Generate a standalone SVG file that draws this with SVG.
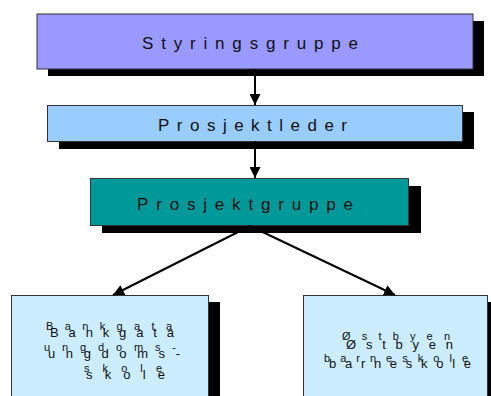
<svg xmlns="http://www.w3.org/2000/svg" width="491" height="396" viewBox="0 0 491 396">
<defs>
<marker id="ah" viewBox="0 0 10 10" refX="10" refY="5" markerWidth="5.5" markerHeight="5.5" orient="auto" markerUnits="strokeWidth">
<path d="M0,0 L10,5 L0,10 z" fill="#000"/>
</marker>
<style>
.shadow{fill:#000}
.box{stroke:#333;stroke-width:1}
.t{font-family:"Liberation Sans",Arial,sans-serif;font-size:17px;fill:#111}
.b{font-family:"Liberation Sans",Arial,sans-serif;font-size:13px;fill:#111}
.s{font-family:"Liberation Sans",Arial,sans-serif;font-size:11px;fill:#111}
.c{stroke:#000;stroke-width:2;fill:none;marker-end:url(#ah)}
</style>
</defs>
<rect width="491" height="396" fill="#fff"/>
<g id="styringsgruppe">
<rect class="shadow" x="48" y="21" width="436" height="55"/>
<rect class="box" x="37" y="14" width="436" height="55" fill="#9999ff"/>
<text class="t" x="142" y="49" textLength="216" lengthAdjust="spacing">Styringsgruppe</text>
</g>
<g id="prosjektleder">
<rect class="shadow" x="59" y="112" width="415" height="37"/>
<rect class="box" x="47.5" y="105.5" width="415" height="36" fill="#99ccff"/>
<text class="t" x="158" y="131" textLength="189" lengthAdjust="spacing">Prosjektleder</text>
</g>
<g id="prosjektgruppe">
<rect class="shadow" x="102" y="186" width="319" height="47"/>
<rect class="box" x="90.5" y="178.5" width="318" height="47" fill="#009999"/>
<text class="t" x="137" y="210" textLength="216" lengthAdjust="spacing">Prosjektgruppe</text>
</g>
<g id="bankgata">
<rect class="shadow" x="22" y="302" width="198" height="100"/>
<rect class="box" x="11.5" y="295.5" width="197" height="105" fill="#ccecff"/>
<text class="s" x="46" y="330" textLength="126" lengthAdjust="spacing">Bankgata</text>
<text class="s" x="44" y="351" textLength="132" lengthAdjust="spacing">ungdoms-</text>
<text class="s" x="84" y="372" textLength="78" lengthAdjust="spacing">skole</text>
<text class="b" x="50" y="337" textLength="124" lengthAdjust="spacing">Bankgata</text>
<text class="b" x="48" y="358" textLength="132" lengthAdjust="spacing">ungdoms-</text>
<text class="b" x="86" y="379" textLength="79" lengthAdjust="spacing">skole</text>
</g>
<g id="ostbyen">
<rect class="shadow" x="314" y="302" width="190" height="100"/>
<rect class="box" x="303.5" y="295.5" width="184" height="105" fill="#ccecff"/>
<text class="s" x="342" y="340" textLength="108" lengthAdjust="spacing">Østbyen</text>
<text class="s" x="324" y="362" textLength="144" lengthAdjust="spacing">barneskole</text>
<text class="b" x="346" y="349" textLength="107" lengthAdjust="spacing">Østbyen</text>
<text class="b" x="329" y="368" textLength="142" lengthAdjust="spacing">barneskole</text>
</g>
<g id="connectors">
<line class="c" x1="255" y1="69" x2="255" y2="105"/>
<line class="c" x1="255" y1="141" x2="255" y2="178"/>
<line class="c" x1="250" y1="226" x2="113" y2="295"/>
<line class="c" x1="250" y1="226" x2="395" y2="295"/>
</g>
</svg>
